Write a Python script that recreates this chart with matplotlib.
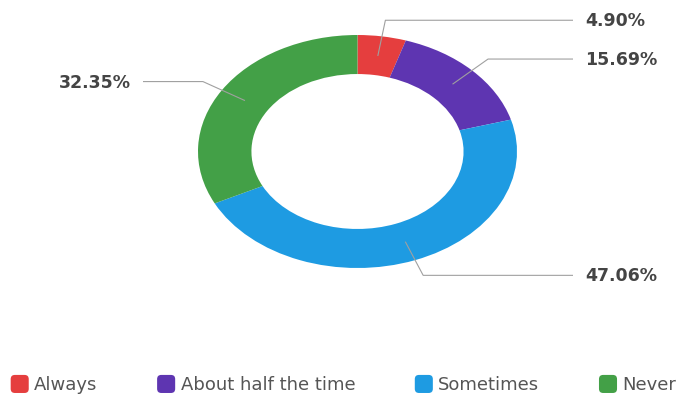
import numpy as np
import matplotlib
matplotlib.use('Agg')
import matplotlib.pyplot as plt
from matplotlib.patches import FancyBboxPatch
from matplotlib.legend_handler import HandlerPatch

# Survey answer shares (percent)
categories = ['Always', 'About half the time', 'Sometimes', 'Never']
shares = [4.90, 15.69, 47.06, 32.35]
colors = ['#e53e3e', '#5e35b1', '#1e9be2', '#43a047']

W, H = 681, 395
fig = plt.figure(figsize=(W / 100, H / 100), dpi=100)

# donut occupies an elliptical box, so pie axes are not equal-aspect
box = (198, 35, 517, 268)  # left, top, right, bottom in pixels
ax = fig.add_axes([box[0] / W, 1 - box[3] / H, (box[2] - box[0]) / W, (box[3] - box[1]) / H])
wedges, _ = ax.pie(shares, colors=colors, startangle=90, counterclock=False,
                   radius=1.0, wedgeprops=dict(width=0.335, linewidth=0))
ax.set_aspect('auto')
ax.set_xlim(-1, 1)
ax.set_ylim(-1, 1)
ax.axis('off')

# overlay in pixel coordinates for leader lines and labels
ov = fig.add_axes([0, 0, 1, 1])
ov.set_xlim(0, W)
ov.set_ylim(H, 0)
ov.axis('off')

cx, cy = (box[0] + box[2]) / 2, (box[1] + box[3]) / 2
rx, ry = (box[2] - box[0]) / 2, (box[3] - box[1]) / 2

def to_px(r, ang):
    a = np.deg2rad(ang)
    return cx + rx * r * np.cos(a), cy - ry * r * np.sin(a)

cum = 0.0
for val, w in zip(shares, wedges):
    mid = 90 - (cum + val / 2) / 100 * 360
    cum += val
    x0, y0 = to_px(0.83, mid)
    x1, y1 = to_px(1.14, mid)
    if np.cos(np.deg2rad(mid)) >= 0:
        xs = [x0, x1, 573]
        tx, ha = 585, 'left'
    else:
        xs = [x0, x1, 143]
        tx, ha = 131, 'right'
    ov.plot(xs, [y0, y1, y1], color='#a0a0a0', lw=0.8, solid_capstyle='butt')
    ov.text(tx, y1 + 1, f'{val:.2f}%', ha=ha, va='center', fontsize=12.5,
            fontweight='bold', color='#444444')


class RoundSquare(HandlerPatch):
    def create_artists(self, legend, orig_handle, xdescent, ydescent, width, height, fontsize, trans):
        s = max(width, height)
        p = FancyBboxPatch((-xdescent + (width - s) / 2, -ydescent + (height - s) / 2), s, s,
                           boxstyle='round,pad=0,rounding_size=3',
                           facecolor=orig_handle.get_facecolor(), edgecolor='none',
                           transform=trans)
        return [p]


leg = fig.legend(wedges, categories, loc='center', bbox_to_anchor=(0.5 + 3 / W, 1 - 385 / H),
                 ncol=4, frameon=False, fontsize=13, handlelength=1.0, handleheight=1.0,
                 handletextpad=0.3, columnspacing=3.3,
                 handler_map={matplotlib.patches.Wedge: RoundSquare()})
for t in leg.get_texts():
    t.set_color('#555555')

fig.savefig('out.png', dpi=100, facecolor='white')
